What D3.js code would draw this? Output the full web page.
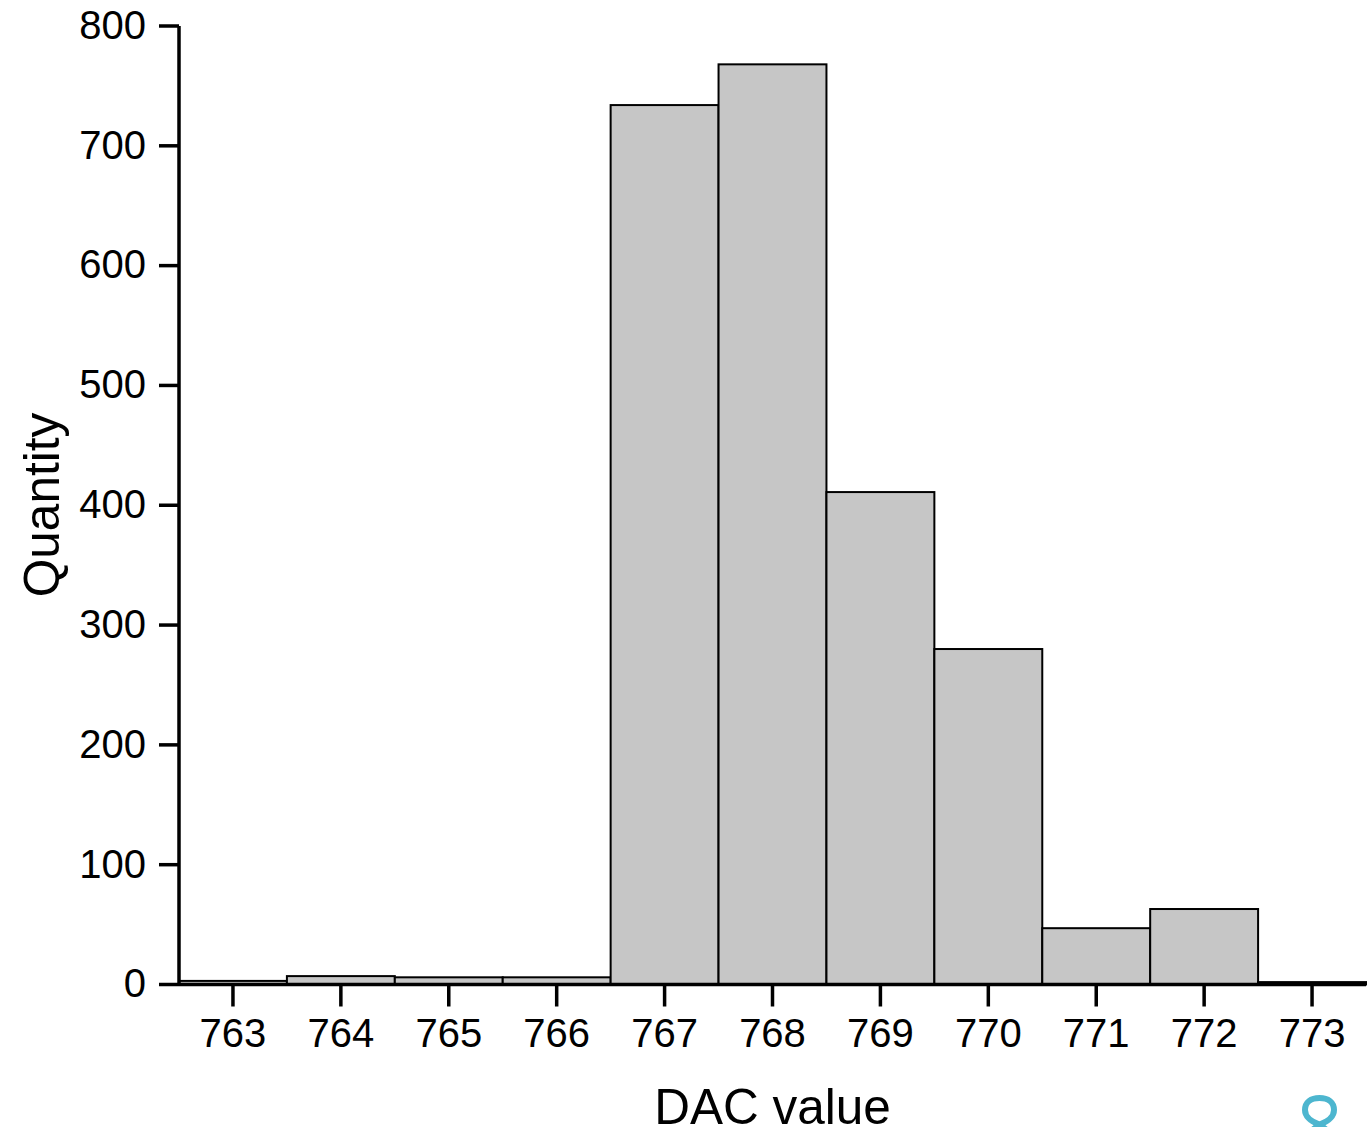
<!DOCTYPE html>
<html><head><meta charset="utf-8">
<script src="https://cdn.jsdelivr.net/npm/d3@7"></script>
<style>html,body{margin:0;padding:0;background:#fff}svg{display:block}text{font-family:"Liberation Sans",Arial,sans-serif;fill:#000}</style>
</head><body><svg id="c" width="1372" height="1127"></svg>
<script>
const dacValues=[763,764,765,766,767,768,769,770,771,772,773];
const quantities=[3,7,6,6,734,768,411,280,47,63,2];
const yTicks=[0,100,200,300,400,500,600,700,800];
const svg=d3.select("#c");
const x=d3.scaleLinear().domain([762.5,773.5]).range([179,1366]);
const y=d3.scaleLinear().domain([0,800]).range([984.5,26]);
svg.append("g").selectAll("rect").data(dacValues).join("rect")
 .attr("x",d=>x(d-0.5)).attr("width",d=>x(d+0.5)-x(d-0.5))
 .attr("y",(d,i)=>y(quantities[i])).attr("height",(d,i)=>y(0)-y(quantities[i]))
 .attr("fill","#c6c6c6").attr("stroke","#000").attr("stroke-width",2);
const ax=svg.append("g").attr("transform",`translate(0,${y(0)})`).call(d3.axisBottom(x).tickValues(dacValues).tickFormat(d3.format("d")).tickSize(22).tickPadding(12).offset(0));
ax.select(".domain").attr("stroke-width",3.5).attr("d",`M${x.range()[0]},0H${x.range()[1]}`);
ax.selectAll(".tick line").attr("stroke-width",3.5);
ax.selectAll("text").style("font-size","40px").attr("font-family",null);
const ay=svg.append("g").attr("transform",`translate(${x(762.5)},0)`).call(d3.axisLeft(y).tickValues(yTicks).tickSize(20).tickPadding(13).offset(0));
ay.select(".domain").attr("stroke-width",3.5).attr("d",`M0,${y(0)}V${y(800)}`);
ay.selectAll(".tick line").attr("stroke-width",3.5);
ay.selectAll("text").style("font-size","40px").attr("font-family",null);
svg.append("text").attr("x",772.5).attr("y",1124).attr("text-anchor","middle").style("font-size","49.5px").text("DAC value");
svg.append("text").attr("transform","translate(59,505) rotate(-90)").attr("text-anchor","middle").style("font-size","49.5px").text("Quantity");
svg.append("path").attr("fill","none").attr("stroke","#4db6cf").attr("stroke-width",6)
 .attr("d","M1311,1131L1319.5,1124.5C1309,1121 1305,1115 1305,1110C1305,1102 1311,1098 1319.5,1098C1328,1098 1334,1102 1334,1110C1334,1115 1330,1121 1319.5,1124.5L1328,1131");
</script></body></html>
